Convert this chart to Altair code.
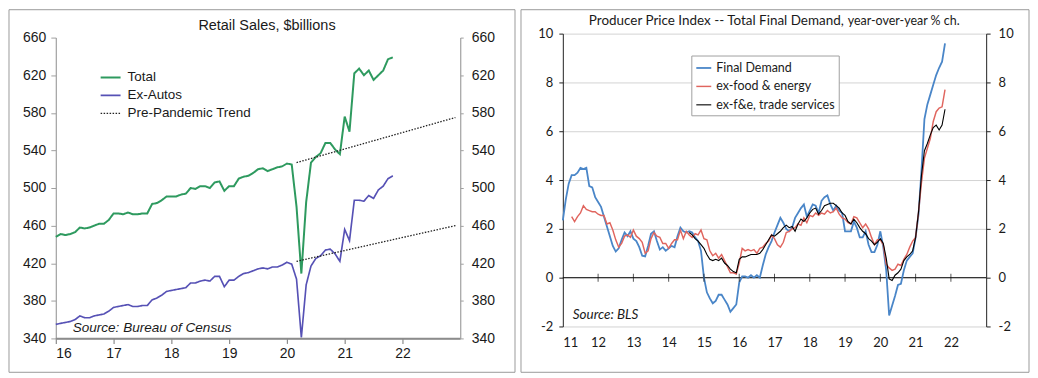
import altair as alt
import pandas as pd

# ---------------- Retail Sales ($ billions), monthly Jan 2016 - Nov 2021
rs_total = [
    448, 451, 450, 451, 453, 458, 457, 458, 460, 462, 462, 466,
    473, 473, 472, 474, 472, 472, 473, 473, 483, 484, 487, 491,
    491, 491, 493, 494, 500, 499, 502, 502, 500, 506, 507, 497,
    502, 502, 510, 512, 513, 516, 520, 521, 518, 520, 522, 523,
    526, 525, 480, 409, 485, 527, 533, 537, 548, 548, 541, 536,
    576, 560, 622, 627, 620, 625, 615, 620, 625, 637, 639,
]
rs_exautos = [
    355, 356, 357, 358, 360, 364, 362, 362, 364, 365, 366, 369,
    373, 374, 375, 376, 374, 374, 375, 375, 381, 383, 386, 390,
    391, 392, 393, 394, 399, 399, 401, 402, 401, 406, 406, 395,
    402, 402, 406, 409, 410, 412, 414, 415, 414, 416, 416, 418,
    421, 419, 403, 341, 397, 417, 425, 428, 434, 435, 430, 422,
    456, 444, 487, 487, 486, 492, 489, 498, 502, 510, 513,
]
trend_x = [2020 + 2 / 12, 2022 + 11 / 12]      # Mar 2020 -> Dec 2022
trend_total = [527, 575]
trend_exautos = [422, 460]
rs_series = ["Total", "Ex-Autos", "Pre-Pandemic Trend"]
rs_years = [2016, 2017, 2018, 2019, 2020, 2021, 2022]
rs_yticks = [340, 380, 420, 460, 500, 540, 580, 620, 660]
rs_title = "Retail Sales, $billions"
rs_source = "Source: Bureau of Census"

# ---------------- PPI final demand, y/y % change, monthly from Jan 2011
ppi_fd = [
    2.35, 3.2, 3.85, 4.2, 4.2, 4.3, 4.5, 4.45, 4.5, 3.75, 3.7, 3.3,
    3.1, 2.9, 2.5, 2.1, 1.7, 1.3, 1.07, 1.2, 1.55, 1.85, 1.7, 1.9,
    1.6, 1.5, 1.25, 0.9, 0.87, 1.3, 1.8, 1.9, 1.5, 1.15, 1.25, 1.1,
    1.2, 1.3, 1.25, 1.7, 2.05, 1.9, 1.85, 1.9, 1.85, 1.65, 1.5, 1.1,
    0.0, -0.6, -0.85, -1.05, -0.95, -0.7, -0.7, -0.9, -1.1, -1.4, -1.25, -1.1,
    -0.2, 0.05, 0.05, 0.0, 0.1, 0.0, 0.1, 0.0, 0.5, 0.95, 1.25, 1.5,
    1.85, 2.15, 2.45, 2.25, 2.0, 1.9, 2.05, 2.45, 2.65, 2.85, 3.0, 2.5,
    2.75, 3.0, 2.95, 2.65, 3.15, 3.3, 3.37, 3.0, 2.75, 2.95, 2.75, 2.65,
    1.9, 1.9, 1.9, 2.3, 2.05, 1.65, 1.65, 1.9, 1.35, 1.05, 1.05, 1.35,
    1.9, 1.25, 0.3, -1.55, -1.15, -0.75, -0.3, -0.25, 0.3, 0.7, 0.85, 1.0,
    1.65, 2.6, 4.4, 6.5, 7.1, 7.5, 7.9, 8.3, 8.6, 8.85, 9.6,
]
ppi_core_start = 3          # months after Jan 2011 (Apr 2011)
ppi_core = [
    2.5, 2.3, 2.5, 2.65, 2.95, 2.8, 2.75, 2.7, 2.7,
    2.6, 2.55, 2.55, 2.2, 2.25, 1.95, 1.55, 1.25, 1.4, 1.7, 1.75, 1.65,
    1.95, 1.7, 1.6, 1.45, 1.0, 1.1, 1.6, 1.85, 1.7, 1.65, 1.4, 1.4,
    1.2, 1.4, 1.55, 1.55, 1.95, 1.6, 1.9, 1.75, 1.65, 1.8, 1.75, 1.95,
    1.6, 1.55, 1.1, 0.9, 1.0, 0.8, 0.95, 0.7, 0.45, 0.2, 0.2, 0.15,
    0.6, 1.2, 1.1, 1.15, 1.1, 1.15, 1.0, 1.2, 1.25, 1.4, 1.5, 1.75,
    1.6, 1.35, 1.25, 1.45, 1.85, 1.9, 2.0, 2.05, 2.2, 2.15, 2.45, 2.25,
    2.55, 2.5, 2.65, 2.55, 2.65, 2.6, 2.75, 2.65, 2.7, 2.85, 2.6, 2.45,
    2.4, 2.25, 2.2, 2.5, 2.45, 2.25, 2.05, 2.2, 2.0, 1.65, 1.35, 1.55,
    1.55, 1.35, 0.55, 0.4, 0.3, 0.35, 0.55, 0.5, 0.75, 0.95, 1.25, 1.5,
    1.65, 2.7, 3.9, 4.9, 5.3, 5.7, 6.4, 6.8, 6.95, 7.0, 7.7,
]
ppi_trade_start = 43        # months after Jan 2011 (Aug 2014)
ppi_trade = [
    1.85, 1.75, 1.6, 1.5, 1.35,
    1.2, 0.95, 0.75, 0.7, 0.75, 0.7, 0.8, 0.6, 0.5, 0.35, 0.25, 0.2,
    0.75, 0.85, 0.85, 0.9, 0.95, 0.95, 0.95, 1.0, 1.15, 1.35, 1.55, 1.75,
    1.7, 1.8, 1.9, 2.05, 2.15, 2.05, 2.1, 1.9, 2.2, 2.4, 2.3, 2.45,
    2.65, 2.8, 2.85, 2.6, 2.75, 2.95, 3.0, 3.05, 3.05, 2.95, 2.85, 2.65,
    2.55, 2.3, 2.2, 2.4, 2.25, 2.05, 1.9, 1.8, 1.6, 1.5, 1.35, 1.45,
    1.6, 1.4, 0.8, -0.05, -0.12, 0.1, 0.2, 0.35, 0.7, 0.85, 0.95, 1.1,
    1.65, 2.7, 4.2, 5.2, 5.5, 5.85, 6.15, 6.25, 6.05, 6.25, 6.9,
]
ppi_series = ["Final Demand", "ex-food & energy", "ex-f&e, trade services"]
ppi_years = list(range(2011, 2023))
ppi_tick_years = list(range(2012, 2023))
ppi_yticks = [-2, 0, 2, 4, 6, 8, 10]
ppi_title_main = "Producer Price Index -- Total Final Demand,"
ppi_title_sub = "year-over-year % ch."
ppi_source = "Source: BLS"

# ---------------- styling
FONT_L = "Liberation Sans"
FONT_R = "Lato"
AX_GRAY = "#a0a0a0"
FRAME = "#9b9b9b"
TXT = "#1a1a1a"
GREEN = "#2e9a5f"
PURPLE = "#5651b5"
BLUE = "#4a86c8"
RED = "#e0655e"

LW, LH = 406, 306
RW, RH = 425, 294

# ---------------- data frames
rows = []
for i, v in enumerate(rs_total):
    rows.append(dict(x=2016 + i / 12, v=v, s="Total", g="a"))
for i, v in enumerate(rs_exautos):
    rows.append(dict(x=2016 + i / 12, v=v, s="Ex-Autos", g="b"))
for x, v in zip(trend_x, trend_total):
    rows.append(dict(x=x, v=v, s="Pre-Pandemic Trend", g="c"))
for x, v in zip(trend_x, trend_exautos):
    rows.append(dict(x=x, v=v, s="Pre-Pandemic Trend", g="d"))
rs_df = pd.DataFrame(rows)

prow = []
for i, v in enumerate(ppi_fd):
    prow.append(dict(x=2011 + i / 12, v=v, s=ppi_series[0]))
for i, v in enumerate(ppi_core):
    prow.append(dict(x=2011 + (ppi_core_start + i) / 12, v=v, s=ppi_series[1]))
for i, v in enumerate(ppi_trade):
    prow.append(dict(x=2011 + (ppi_trade_start + i) / 12, v=v, s=ppi_series[2]))
ppi_df = pd.DataFrame(prow)

one = pd.DataFrame({"k": [0]})

# ================= LEFT PANEL =================
xs_l = alt.Scale(domain=[2016, 2023], nice=False, zero=False)
ys_l = alt.Scale(domain=[340, 660], range=[LH, 4], nice=False, zero=False)

x_axis_l = alt.Axis(
    values=rs_years, labelExpr="substring(toString(datum.value), 2, 4)", title=None,
    grid=False, domain=True, ticks=True, domainColor="#8c8c8c", domainWidth=1.5,
    tickColor="#8c8c8c", tickWidth=1.2, tickSize=5, labelPadding=3,
    labelFont=FONT_L, labelFontSize=14, labelColor=TXT, orient="bottom")

leg_l = alt.Legend(
    title=None, orient="none", legendX=44, legendY=33, symbolType="stroke",
    symbolSize=400, labelFont=FONT_L, labelFontSize=13.5, labelColor=TXT,
    rowPadding=0, labelOffset=6, padding=0,
)

frame_l = alt.Chart(one).mark_rect(fillOpacity=0, stroke=FRAME, strokeWidth=1).encode(
    x=alt.value(-47), x2=alt.value(LW + 55), y=alt.value(-24), y2=alt.value(LH + 34)
)

bottom_l = alt.Chart(pd.DataFrame({"b": [340]})).mark_rule(color="#8c8c8c", strokeWidth=1.5).encode(
    y=alt.Y("b:Q", scale=ys_l, axis=None)
)

lines_l = alt.Chart(rs_df).mark_line().encode(
    x=alt.X("x:Q", scale=xs_l, axis=x_axis_l),
    y=alt.Y("v:Q", scale=ys_l, axis=alt.Axis(
        values=rs_yticks, title=None, grid=False, orient="left", domainColor=AX_GRAY,
        domainWidth=1.2, tickColor=AX_GRAY, tickSize=5, labelPadding=5, labelFont=FONT_L,
        labelFontSize=14, labelColor=TXT)),
    color=alt.Color("s:N", scale=alt.Scale(domain=rs_series, range=[GREEN, PURPLE, "#222222"]), legend=leg_l),
    strokeDash=alt.StrokeDash("s:N", scale=alt.Scale(domain=rs_series, range=[[1, 0], [1, 0], [1.5, 1.5]]), legend=leg_l),
    strokeWidth=alt.StrokeWidth("s:N", scale=alt.Scale(domain=rs_series, range=[2, 1.3, 1.4]), legend=leg_l),
    detail="g:N",
)

axis_r_l = alt.Chart(rs_df).mark_line(opacity=0).encode(
    x=alt.X("x:Q", scale=xs_l, axis=x_axis_l),
    y=alt.Y("v:Q", scale=ys_l, axis=alt.Axis(
        values=rs_yticks, title=None, grid=False, orient="right", domainColor=AX_GRAY,
        domainWidth=1.2, tickColor=AX_GRAY, tickSize=3, labelPadding=8, labelFont=FONT_L,
        labelFontSize=14, labelColor=TXT)),
    detail="g:N",
)

title_l = alt.Chart(pd.DataFrame({"t": [rs_title]})).mark_text(
    font=FONT_L, fontSize=14.5, color=TXT, align="center", baseline="alphabetic"
).encode(text="t:N", x=alt.value(212), y=alt.value(-4))

source_l = alt.Chart(pd.DataFrame({"t": [rs_source]})).mark_text(
    font=FONT_L, fontSize=13.6, fontStyle="italic", color=TXT, align="left", baseline="alphabetic"
).encode(text="t:N", x=alt.value(17), y=alt.value(300))

left = alt.layer(frame_l, lines_l, axis_r_l, bottom_l, title_l, source_l).resolve_axis(
    y="independent").properties(width=LW, height=LH)

# ================= RIGHT PANEL =================
xs_r = alt.Scale(domain=[2011, 2023], nice=False, zero=False)
ys_r = alt.Scale(domain=[-2, 10], nice=False, zero=False)

x_axis_r = alt.Axis(
    values=ppi_years, labelExpr="substring(toString(datum.value), 2, 4)", title=None,
    grid=False, domain=False, ticks=False, labelPadding=10, orient="bottom",
    labelFont=FONT_R, labelFontSize=13, labelColor=TXT)

leg_r = alt.Legend(
    title=None, orient="none", legendX=129, legendY=22, symbolType="stroke",
    symbolSize=225, labelFont=FONT_R, labelFontSize=12.5, labelColor=TXT,
    rowPadding=3.5, labelOffset=4, padding=4, fillColor="white", strokeColor="#a0a0a0",
)

frame_r = alt.Chart(one).mark_rect(fillOpacity=0, stroke=FRAME, strokeWidth=1).encode(
    x=alt.value(-42), x2=alt.value(RW + 43), y=alt.value(-24), y2=alt.value(RH + 46)
)

zero_r = alt.Chart(pd.DataFrame({"z": [0]})).mark_rule(color="#111111", strokeWidth=1).encode(
    y=alt.Y("z:Q", scale=ys_r, axis=None)
)

ticks_r = alt.Chart(pd.DataFrame({"yr": ppi_tick_years, "z": [0] * len(ppi_tick_years)})).mark_tick(
    orient="vertical", size=8, thickness=1, color="#111111"
).encode(
    x=alt.X("yr:Q", scale=xs_r, axis=x_axis_r),
    y=alt.Y("z:Q", scale=ys_r, axis=None),
)

lines_r = alt.Chart(ppi_df).mark_line().encode(
    x=alt.X("x:Q", scale=xs_r, axis=x_axis_r),
    y=alt.Y("v:Q", scale=ys_r, axis=alt.Axis(
        values=ppi_yticks, labelExpr="toString(datum.value)", title=None, grid=True,
        gridColor="#d3d3d3", gridWidth=1, gridOpacity=1, orient="left",
        domainColor="#222222", tickColor="#222222", tickSize=4, labelPadding=6,
        labelFont=FONT_R, labelFontSize=13, labelColor=TXT)),
    color=alt.Color("s:N", scale=alt.Scale(domain=ppi_series, range=[BLUE, RED, "#000000"]), legend=leg_r),
    strokeWidth=alt.StrokeWidth("s:N", scale=alt.Scale(domain=ppi_series, range=[1.8, 1.1, 2.4]), legend=leg_r),
)

axis_r_r = alt.Chart(ppi_df).mark_line(opacity=0).encode(
    x=alt.X("x:Q", scale=xs_r, axis=x_axis_r),
    y=alt.Y("v:Q", scale=ys_r, axis=alt.Axis(
        values=ppi_yticks, labelExpr="toString(datum.value)", title=None, grid=False,
        orient="right", domainColor="#222222", tickColor="#222222", tickSize=4,
        labelPadding=8, labelFont=FONT_R, labelFontSize=13, labelColor=TXT)),
    detail="s:N",
)

title_r1 = alt.Chart(pd.DataFrame({"t": [ppi_title_main]})).mark_text(
    font=FONT_R, fontSize=13.5, color=TXT, align="right", baseline="alphabetic"
).encode(text="t:N", x=alt.value(282), y=alt.value(-9))

title_r2 = alt.Chart(pd.DataFrame({"t": [ppi_title_sub]})).mark_text(
    font=FONT_R, fontSize=12.5, color=TXT, align="left", baseline="alphabetic"
).encode(text="t:N", x=alt.value(286), y=alt.value(-9))

source_r = alt.Chart(pd.DataFrame({"t": [ppi_source]})).mark_text(
    font=FONT_R, fontSize=13.5, fontStyle="italic", color=TXT, align="left", baseline="alphabetic"
).encode(text="t:N", x=alt.value(10), y=alt.value(286))

right = alt.layer(frame_r, zero_r, lines_r, ticks_r, axis_r_r, title_r1, title_r2, source_r).resolve_axis(
    y="independent").properties(width=RW, height=RH)

chart = alt.hconcat(left, right, spacing=4).resolve_scale(
    color="independent", strokeWidth="independent", strokeDash="independent"
).properties(padding=0).configure_view(stroke=None)

chart.save("out.html", embed_options={"renderer": "svg", "actions": False})
